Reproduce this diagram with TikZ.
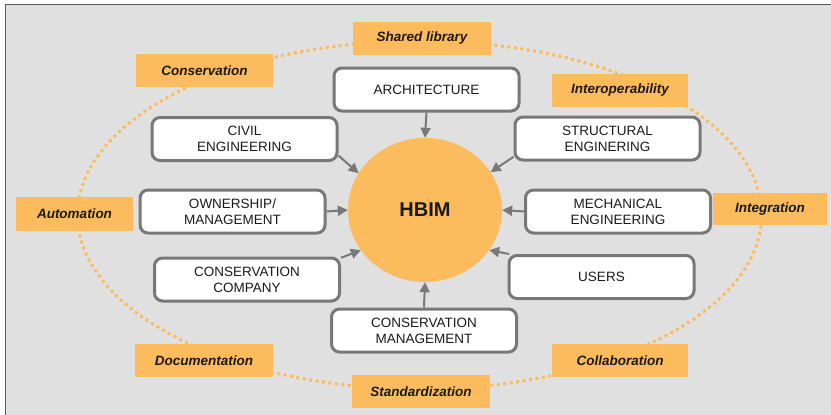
\documentclass[tikz,border=0pt]{standalone}
\usepackage{fontspec}
\setmainfont{Liberation Sans}
\usetikzlibrary{arrows.meta,shapes.geometric}
\definecolor{hbimorange}{HTML}{FCBB5C}
\definecolor{boxgray}{HTML}{787878}
\definecolor{bggray}{HTML}{E0E0E0}
\definecolor{framegray}{HTML}{5A5A5A}
\definecolor{txt}{HTML}{1A1A1A}
\tikzset{
  x=1pt, y=-1pt,
  rolebox/.style={draw=boxgray, line width=3pt, fill=white, rounded corners=8pt,
    minimum width=185pt, minimum height=43pt, inner sep=0pt, align=center,
    text=txt, font=\fontsize{13.5}{16}\selectfont},
  tagbox/.style={fill=hbimorange, minimum height=33pt, inner sep=0pt,
    text=txt, font=\fontsize{13.5}{16}\selectfont\bfseries\itshape},
  feed/.style={draw=boxgray, line width=2pt, -{Triangle[length=10pt,width=10pt]}},
  ring/.style={draw=hbimorange, line width=3pt, dash pattern=on 3pt off 3.5pt}
}
\begin{document}
\begin{tikzpicture}
\useasboundingbox (0,0) rectangle (831,415);
% background panel
\fill[bggray] (5,4) rectangle (831,415);
\draw[framegray, line width=1pt] (5,415) -- (5,4) -- (831,4);
% dotted ring
\draw[ring] (419.5,215) ellipse [x radius=342pt, y radius=174pt];
% centre
\node[ellipse, fill=hbimorange, minimum width=154pt, minimum height=144pt, inner sep=0pt,
  text=txt, font=\fontsize{20}{24}\selectfont\bfseries] (hbim) at (425,210) {HBIM};
% stakeholder boxes
\node[rolebox] (arch) at (426.5,89.5) {ARCHITECTURE};
\node[rolebox] (civil) at (244.5,139) {CIVIL\\ENGINEERING};
\node[rolebox] (struct) at (607.5,138.5) {STRUCTURAL\\ENGINERING};
\node[rolebox] (own) at (232.5,211.5) {OWNERSHIP/\\MANAGEMENT};
\node[rolebox] (mech) at (618,211.5) {MECHANICAL\\ENGINEERING};
\node[rolebox] (cc) at (247,279.5) {CONSERVATION\\COMPANY};
\node[rolebox] (users) at (601.5,277) {USERS};
\node[rolebox] (cm) at (424,330.5) {CONSERVATION\\MANAGEMENT};
% arrows
\draw[feed] (arch.south) -- (hbim.90);
\draw[feed] (civil.-10.3) -- (hbim.151);
\draw[feed] (struct.191.9) -- (hbim.30);
\draw[feed] (own.east) -- (hbim.180);
\draw[feed] (mech.west) -- (hbim.0);
\draw[feed] (cc.13.3) -- (hbim.212);
\draw[feed] (users.166.9) -- (hbim.-32);
\draw[feed] (cm.north) -- (hbim.270);
% orange tags
\node[tagbox, minimum width=138pt] (shared) at (422,38) {Shared library};
\node[tagbox, minimum width=137pt] (conserv) at (204.5,70.5) {Conservation};
\node[tagbox, minimum width=136pt] (interop) at (620,90.5) {Interoperability};
\node[tagbox, minimum width=117pt, minimum height=34pt] (autom) at (74.5,214) {Automation};
\node[tagbox, minimum width=114pt, minimum height=32pt] (integ) at (770,209) {Integration};
\node[tagbox, minimum width=138pt] (docu) at (204,360.5) {Documentation};
\node[tagbox, minimum width=138pt] (stand) at (421,391.5) {Standardization};
\node[tagbox, minimum width=136pt] (collab) at (620,360.5) {Collaboration};
\end{tikzpicture}
\end{document}
